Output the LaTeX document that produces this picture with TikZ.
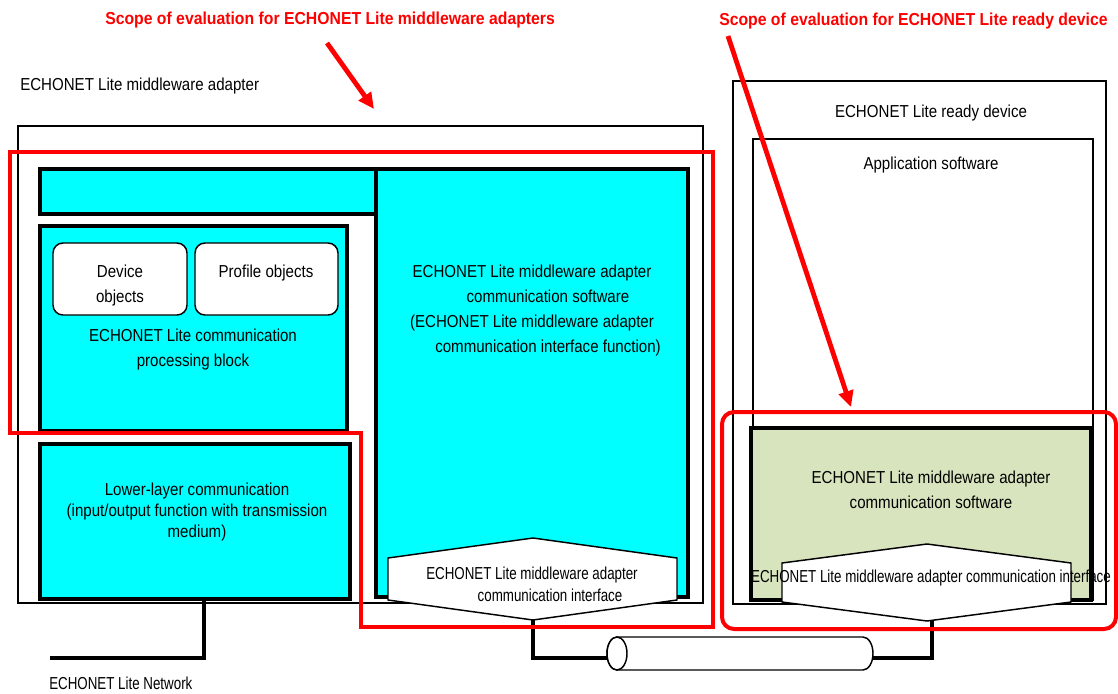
\documentclass[tikz,border=0pt]{standalone}
\usepackage{fontspec}
\setmainfont{Liberation Sans}[FakeStretch=0.87]
\newfontfamily\fHex{Liberation Sans}[FakeStretch=0.77]
\newfontfamily\fTitle{Liberation Sans}[FakeStretch=0.91]
\usetikzlibrary{fit,arrows.meta}
\definecolor{cy}{HTML}{00FFFF}
\definecolor{gr}{HTML}{D7E4BD}
\definecolor{rd}{HTML}{FF0000}
\begin{document}
\begin{tikzpicture}[x=0.75pt,y=-0.75pt,
  thinbox/.style={draw=black,line width=1.1pt,inner sep=0,fill=white},
  thickbox/.style={draw=black,line width=3pt,inner sep=0,fill=cy},
  objbox/.style={draw=black,line width=1.1pt,rounded corners=7.5pt,inner sep=0,fill=white},
  lbl/.style={font=\fontsize{13}{18.75}\selectfont,align=center,inner sep=0},
  hexlbl/.style={font=\fHex\fontsize{13}{16.5}\selectfont,align=center,inner sep=0},
  titlelbl/.style={font=\fTitle\bfseries\fontsize{13}{16}\selectfont,text=rd,inner sep=0},
  hexshape/.style={draw=black,line width=1.1pt,fill=white,line join=miter},
  conn/.style={draw=black,line width=3pt},
  redline/.style={draw=rd,line width=3pt},
  redarrow/.style={draw=rd,line width=3.6pt,-{Triangle[length=12pt,width=11pt]},fill=rd}
]
\useasboundingbox (0,0) rectangle (1118,693);
\fill[white] (0,0) rectangle (1118,693);

% outer boxes
\node[thinbox,fit={(18,126)(703,603)}] (adapter) {};
\node[thinbox,fit={(733,81)(1106,604)}] (device) {};
\node[thinbox,fit={(753,139)(1093,600)}] (app) {};

% cyan blocks
\node[thickbox,fit={(40,169)(376,214)}] (bar) {};
\node[thickbox,fit={(376,169)(688,597)}] (mwsw) {};
\node[thickbox,fit={(40,226)(347,431)}] (proc) {};
\node[thickbox,fit={(40,444)(350,599)}] (lower) {};
\node[thickbox,fill=gr,fit={(751,428)(1091,600)}] (green) {};

% object boxes
\node[objbox,fit={(53,243)(187,315)}] (devobj) {};
\node[objbox,fit={(195,243)(338,315)}] (profobj) {};

% hexagons (interfaces)
\draw[hexshape] (388,558) -- (533,538) -- (677,558) -- (677,600) -- (533,620) -- (388,600) -- cycle;
\coordinate (hexLb) at (533,620);
\draw[hexshape] (782,563) -- (927,544) -- (1071,563) -- (1071,602) -- (927,621) -- (782,602) -- cycle;
\coordinate (hexRb) at (932,620);

% cylinder (transmission medium)
\draw[line width=1.1pt,fill=white] (617,637) -- (863,637)
  arc[start angle=-90,end angle=90,x radius=10,y radius=16.5] -- (617,670)
  arc[start angle=90,end angle=270,x radius=10,y radius=16.5] -- cycle;
\draw[line width=1.1pt,fill=white] (617,653.5) ellipse[x radius=10,y radius=16.5];
\node[inner sep=0,fit={(607,637)(873,670)}] (cyl) {};

% connectors
\draw[conn] (hexLb) |- ([yshift=-3pt]cyl.west);
\draw[conn] ([yshift=-3pt]cyl.east) -| (hexRb);
\coordinate (netEnd) at (50,658);
\draw[conn] ([xshift=6.75pt]lower.south) |- (netEnd);

% red scopes
\draw[redline,line join=miter] (10,152) -- (713,152) -- (713,627) -- (361,627) -- (361,433) -- (10,433) -- cycle;
\draw[redline,rounded corners=9pt] (722,412) rectangle (1116,629);

% titles and arrows
\node[titlelbl,anchor=west] (tScopeA) at (105,20) {Scope of evaluation for ECHONET Lite middleware adapters};
\node[titlelbl,anchor=west] (tScopeD) at (719,21) {Scope of evaluation for ECHONET Lite ready device};
\coordinate (a1s) at (327,43);
\coordinate (a1e) at (374,109);
\coordinate (a2s) at (728,36);
\coordinate (a2e) at (851,407);
\draw[redarrow] (a1s) -- (a1e);
\draw[redarrow] (a2s) -- (a2e);

% labels
\node[lbl,anchor=west] (tAdapter) at (20,86) {ECHONET Lite middleware adapter};
\node[lbl] (tDevice) at (931,113) {ECHONET Lite ready device};
\node[lbl] (tApp) at (931,165) {Application software};
\node[lbl] (tDevObj) at (120,285.5) {Device\\objects};
\node[lbl] (tProfObj) at (266,273) {Profile objects};
\node[lbl] (tProc) at (193,349.5) {ECHONET Lite communication\\processing block};
\node[lbl,font=\fontsize{13}{15.5}\selectfont] (tLower) at (197,512) {Lower-layer communication\\(input/output function with transmission\\medium)};
\node[lbl] (tMw) at (532,310.5) {ECHONET Lite middleware adapter\\\hspace*{24pt}communication software\\(ECHONET Lite middleware adapter\\\hspace*{24pt}communication interface function)};
\node[lbl] (tGreen) at (931,489.5) {ECHONET Lite middleware adapter\\communication software};
\node[hexlbl] (tHexL) at (532,584) {ECHONET Lite middleware adapter\\\hspace*{27pt}communication interface};
\node[hexlbl] (tHexR) at (931,578) {ECHONET Lite middleware adapter communication interface};
\node[hexlbl,anchor=west] (tNet) at (49,683) {ECHONET Lite Network};
\end{tikzpicture}
\end{document}
